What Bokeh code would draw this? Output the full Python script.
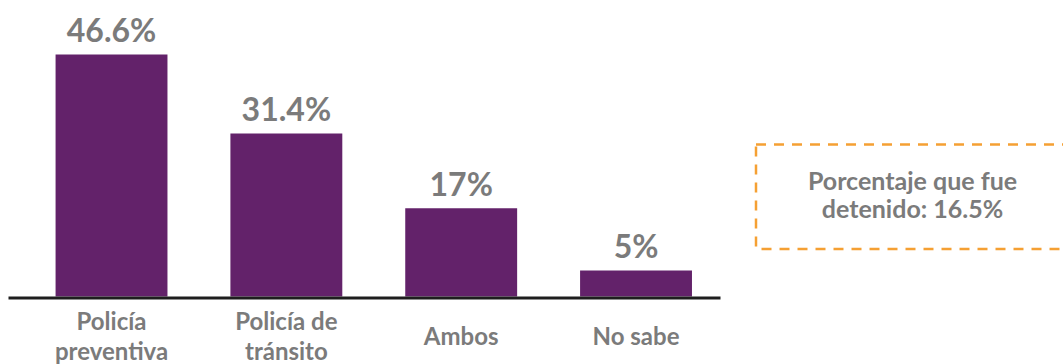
from bokeh.plotting import figure
from bokeh.models import Range1d
from bokeh.core.properties import value
from bokeh.embed import file_html
from bokeh.resources import INLINE
import numpy as np

# ---- data ----
categories = ["Policía\npreventiva", "Policía de\ntránsito", "Ambos", "No sabe"]
values = [46.6, 31.4, 17.0, 5.0]
value_labels = ["46.6%", "31.4%", "17%", "5%"]
note_lines = ["Porcentaje que fue", "detenido: 16.5%"]

# ---- style ----
W, H = 1063, 364
PURPLE = "#63226A"
GRAY = "#7B7B7B"
ORANGE = "#F5A033"
FONT = value("Lato")

xs = np.arange(len(categories))

p = figure(width=W, height=H, output_backend="svg", toolbar_location=None,
           x_range=Range1d(-0.635, 5.445), y_range=Range1d(-13.09, 57.0),
           min_border=0, outline_line_color=None, background_fill_color="white",
           border_fill_color="white")
p.axis.visible = False
p.grid.visible = False
p.extra_x_ranges = {"px": Range1d(0, W)}
p.extra_y_ranges = {"px": Range1d(H, 0)}

# bars
p.vbar(x=xs, top=values, bottom=0, width=0.64, fill_color=PURPLE, line_color=None)

# baseline axis line
p.segment(x0=[8], x1=[720], y0=[297.5], y1=[297.5], line_color="#1E1E1E",
          line_width=3, x_range_name="px", y_range_name="px")

# value labels
p.text(x=xs, y=values, text=value_labels, text_font=FONT, text_font_style="bold",
       text_font_size="32px", text_color=GRAY, text_align="center",
       text_baseline="alphabetic", y_offset=-25)

# category labels
p.text(x=xs, y=[0] * len(xs), text=categories, text_font=FONT, text_font_style="bold",
       text_font_size="24px", text_color=GRAY, text_align="center",
       text_baseline="middle", y_offset=39, text_line_height=1.05)

# dashed note box (right side runs off the edge)
p.quad(left=[755.5], right=[1080], top=[144], bottom=[248.5], fill_color=None,
       line_color=ORANGE, line_width=2.5, line_dash="10 8",
       x_range_name="px", y_range_name="px")
p.text(x=[912, 912], y=[179, 207], text=note_lines, text_font=FONT,
       text_font_style="bold", text_font_size="25px", text_color=GRAY,
       text_align="center", text_baseline="alphabetic",
       x_range_name="px", y_range_name="px")

open("out.html", "w").write(file_html(p, INLINE))
